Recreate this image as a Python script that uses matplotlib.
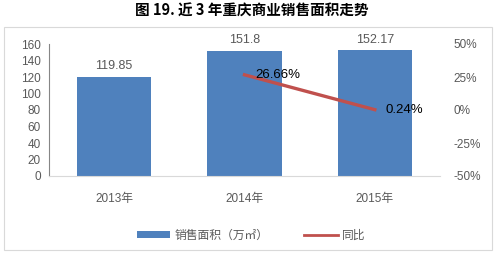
import matplotlib.pyplot as plt
from matplotlib.patches import Rectangle, Patch
from matplotlib.lines import Line2D
from matplotlib.ticker import FuncFormatter

plt.rcParams['font.family'] = ['Liberation Sans', 'Noto Sans CJK SC', 'DejaVu Sans']

years = ["2013年", "2014年", "2015年"]
area = [119.85, 151.8, 152.17]
yoy_years = ["2014年", "2015年"]
yoy = [26.66, 0.24]

bar_color = "#4F81BD"
line_color = "#C0504D"
text_gray = "#595959"

fig = plt.figure(figsize=(5.03, 2.57), dpi=100)
fig.patches.append(Rectangle((4 / 503, 1 - 250 / 257), 488 / 503, 223 / 257,
                             transform=fig.transFigure, fill=False,
                             edgecolor="#D9D9D9", linewidth=0.8))

ax = fig.add_axes([49 / 503, 1 - 176 / 257, 391 / 503, 132 / 257])
x = list(range(len(years)))
bars = ax.bar(x, area, width=0.57, color=bar_color, zorder=2)
ax.set_xlim(-0.5, 2.5)
ax.set_ylim(0, 160)
ax.set_yticks(range(0, 161, 20))
ax.set_xticks(x)
ax.set_xticklabels(years)
for b, v in zip(bars, area):
    ax.text(b.get_x() + b.get_width() / 2, v + 6, f"{v:g}", ha="center",
            va="bottom", fontsize=9, color=text_gray)

for s in ["top", "right"]:
    ax.spines[s].set_visible(False)
ax.spines["left"].set_color("#868686")
ax.spines["bottom"].set_color("#D9D9D9")
ax.tick_params(axis="both", length=0, labelsize=8.5, colors=text_gray, pad=6)
ax.tick_params(axis="x", pad=12)

ax2 = ax.twinx()
xi = [years.index(y) for y in yoy_years]
ax2.plot(xi, yoy, color=line_color, linewidth=2.4, zorder=3)
ax2.set_ylim(-50, 50)
ax2.set_yticks([-50, -25, 0, 25, 50])
ax2.yaxis.set_major_formatter(FuncFormatter(lambda v, _: f"{v:.0f}%"))
for s in ["top", "right", "left", "bottom"]:
    ax2.spines[s].set_visible(False)
ax2.tick_params(axis="y", length=0, labelsize=8.5, colors=text_gray, pad=10)
for xx, v in zip(xi, yoy):
    ax2.text(xx + 0.08, v, f"{v:.2f}%", ha="left", va="center", fontsize=9.5,
             color="black")

fig.text(0.5, 1 - 11 / 257, "图 19. 近 3 年重庆商业销售面积走势", ha="center",
         va="center", fontsize=10.5, fontweight="bold", color="black",
         family=["Noto Sans CJK SC", "DejaVu Sans"])

handles = [Patch(facecolor=bar_color, edgecolor="none"),
           Line2D([], [], color=line_color, linewidth=2)]
fig.legend(handles, ["销售面积（万㎡）", "同比"], loc="center",
           bbox_to_anchor=(0.5, 1 - 236 / 257), ncol=2, frameon=False,
           fontsize=8.5, labelcolor=text_gray, handlelength=2.8, handleheight=0.5,
           columnspacing=3, handletextpad=0.4)

fig.savefig("out.png", dpi=100)
